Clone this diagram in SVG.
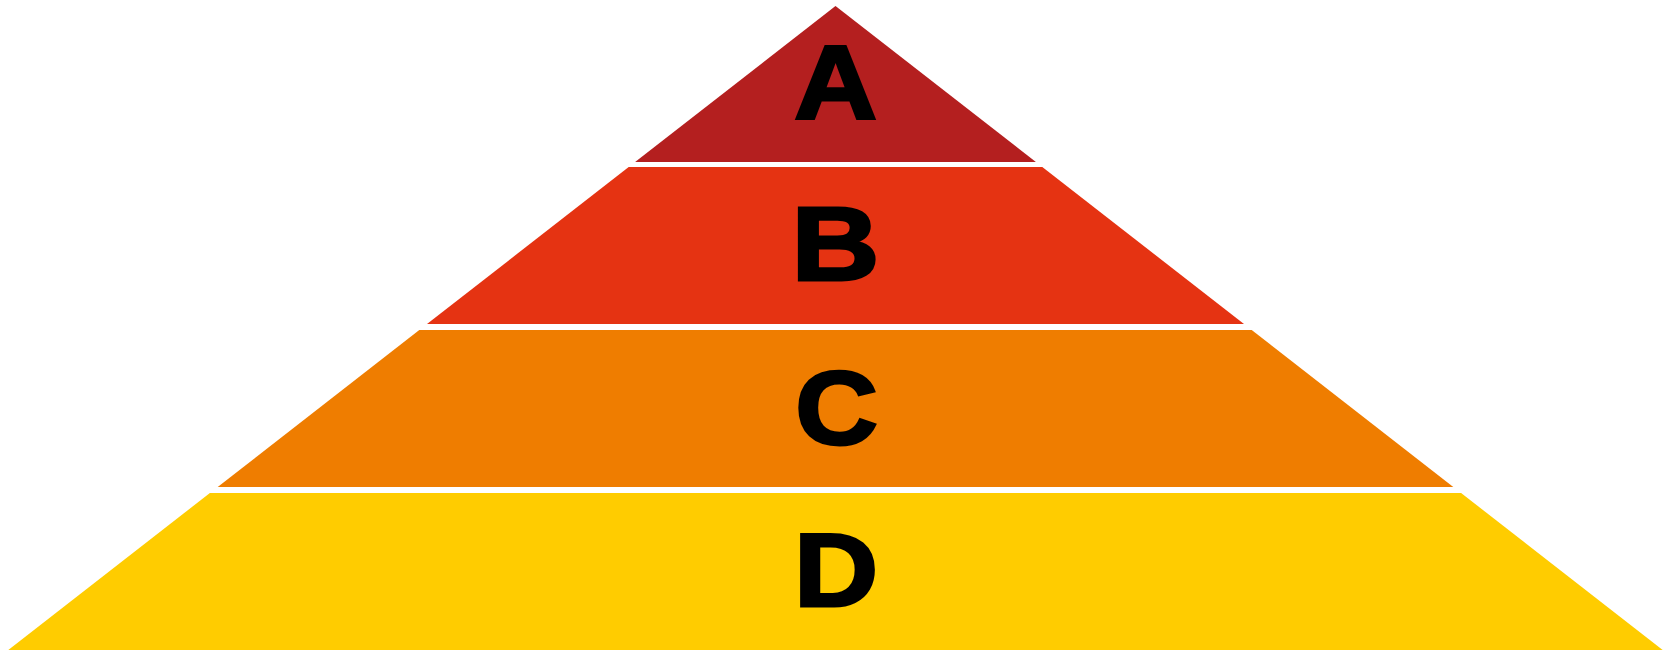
<svg xmlns="http://www.w3.org/2000/svg" width="1671" height="652" viewBox="0 0 1671 652">
<style>
.lbl{font-family:"Liberation Sans",Arial,sans-serif;font-weight:bold;font-size:104px;fill:#000;stroke:#000;stroke-width:3;stroke-linejoin:miter;text-anchor:middle}
</style>
<rect width="1671" height="652" fill="#fff"/>
<g id="layerA">
<polygon points="835.5,6 1035.9,162 635.1,162" fill="#B41F1F"/>
<text class="lbl" transform="translate(835.5,117.5) scale(1.1,1)">A</text>
</g>
<g id="layerB">
<polygon points="628.7,167 1042.3,167 1244,324 427,324" fill="#E53312"/>
<text class="lbl" transform="translate(835.5,279.5) scale(1.17,1)">B</text>
</g>
<g id="layerC">
<polygon points="419.3,330 1251.7,330 1453.3,487 217.7,487" fill="#EF7D00"/>
<text class="lbl" transform="translate(836.5,444) scale(1.1,1)">C</text>
</g>
<g id="layerD">
<polygon points="209.9,493 1461.1,493 1662.7,650 8.3,650" fill="#FFCC00"/>
<text class="lbl" transform="translate(836,605.5) scale(1.12,1)">D</text>
</g>
<g id="connectors"></g>
</svg>
